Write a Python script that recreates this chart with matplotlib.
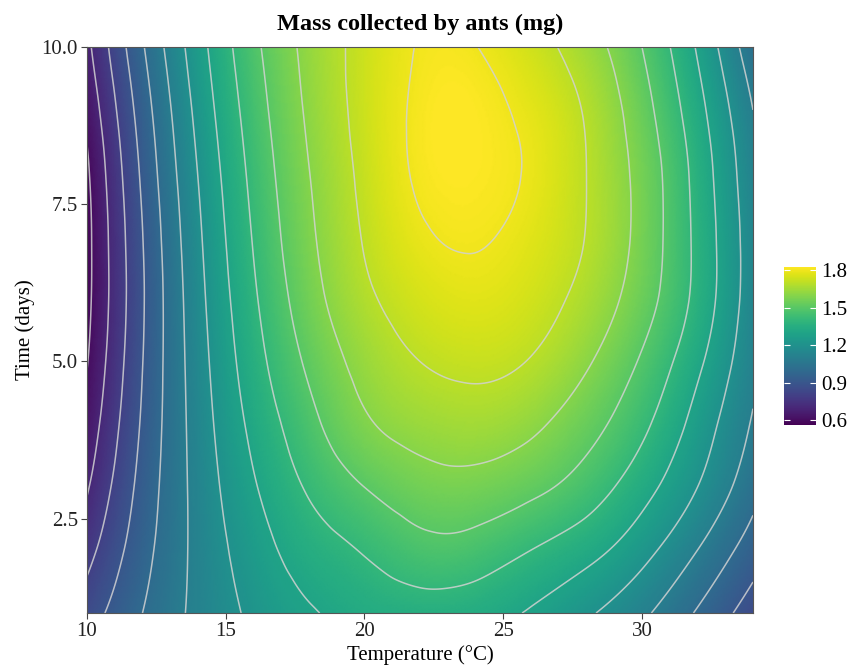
import numpy as np
import matplotlib
matplotlib.use("Agg")
from matplotlib import pyplot as plt
import matplotlib.tri as mtri

temperature = [10, 12, 14, 16, 18, 20, 22, 24, 26, 28, 30, 32, 34]
time_days = [1, 2, 3, 4, 5, 6, 7, 8, 9, 10]

# one row per day, one value per temperature (mg)
mass_day1 = [0.85, 1.00, 1.125, 1.22, 1.29, 1.335, 1.352, 1.34, 1.29, 1.214, 1.12, 0.99, 0.85]
mass_day2 = [0.765, 0.963, 1.127, 1.253, 1.348, 1.408, 1.465, 1.458, 1.40, 1.335, 1.235, 1.10, 0.95]
mass_day3 = [0.69, 0.935, 1.134, 1.29, 1.412, 1.50, 1.558, 1.565, 1.525, 1.453, 1.339, 1.20, 1.035]
mass_day4 = [0.635, 0.913, 1.144, 1.325, 1.47, 1.585, 1.638, 1.654, 1.62, 1.538, 1.423, 1.262, 1.09]
mass_day5 = [0.595, 0.898, 1.155, 1.358, 1.518, 1.635, 1.70, 1.722, 1.695, 1.612, 1.488, 1.322, 1.125]
mass_day6 = [0.575, 0.89, 1.167, 1.385, 1.558, 1.68, 1.748, 1.772, 1.742, 1.668, 1.545, 1.37, 1.143]
mass_day7 = [0.572, 0.898, 1.182, 1.407, 1.582, 1.707, 1.788, 1.808, 1.772, 1.697, 1.567, 1.375, 1.145]
mass_day8 = [0.585, 0.918, 1.202, 1.427, 1.598, 1.722, 1.812, 1.826, 1.79, 1.70, 1.565, 1.365, 1.13]
mass_day9 = [0.625, 0.948, 1.228, 1.45, 1.615, 1.732, 1.815, 1.826, 1.778, 1.69, 1.54, 1.335, 1.10]
mass_day10 = [0.675, 0.99, 1.258, 1.475, 1.628, 1.732, 1.805, 1.802, 1.74, 1.647, 1.50, 1.29, 1.035]

contour_levels = [0.6, 0.7, 0.8, 0.9, 1.0, 1.1, 1.2, 1.3, 1.4, 1.5, 1.6, 1.7, 1.8]
colorbar_ticks = [0.6, 0.9, 1.2, 1.5, 1.8]


def smooth_surface():
    z = np.array([mass_day1, mass_day2, mass_day3, mass_day4, mass_day5,
                  mass_day6, mass_day7, mass_day8, mass_day9, mass_day10])
    # grid index space so the cubic patches see square cells
    ix, iy = np.meshgrid(np.arange(len(temperature)), np.arange(len(time_days)))
    ny, nx = z.shape
    tris = []
    for j in range(ny - 1):
        for i in range(nx - 1):
            a = j * nx + i
            tris.append([a, a + 1, a + nx + 1])
            tris.append([a, a + nx + 1, a + nx])
    triang = mtri.Triangulation(ix.ravel().astype(float), iy.ravel().astype(float), tris)
    interp = mtri.CubicTriInterpolator(triang, z.ravel(), kind="min_E")
    fine_tri, fine_z = mtri.UniformTriRefiner(triang).refine_field(
        z.ravel(), triinterpolator=interp, subdiv=5)
    # back to temperature / day units
    fx = np.interp(fine_tri.x, np.arange(nx), temperature)
    fy = np.interp(fine_tri.y, np.arange(ny), time_days)
    return mtri.Triangulation(fx, fy, fine_tri.triangles), fine_z


def make_plot():
    plt.rcParams["font.family"] = ["Liberation Serif", "DejaVu Serif"]
    tri_fine, z_fine = smooth_surface()

    fig = plt.figure(figsize=(8.57, 6.68), dpi=100)
    ax = fig.add_axes([0.1015, 0.0823, 0.7771, 0.8473])
    mesh = ax.tripcolor(tri_fine, z_fine, shading="gouraud", cmap="viridis",
                        vmin=0.56, vmax=1.83)
    ax.tricontour(tri_fine, z_fine, levels=contour_levels, colors="#d2d2d2",
                  alpha=0.85, linewidths=1.1)

    ax.set_xlim(10, 34)
    ax.set_ylim(1, 10)
    ax.set_xticks([10, 15, 20, 25, 30])
    ax.set_yticks([2.5, 5.0, 7.5, 10.0], ["2.5", "5.0", "7.5", "10.0"])
    ax.tick_params(labelsize=15, length=4, width=0.8, color="#444444",
                   labelcolor="#222222", pad=2.5)
    for s in ax.spines.values():
        s.set_color("#555555")
        s.set_linewidth(0.8)

    ax.set_xlabel("Temperature (°C)", fontsize=15, labelpad=3)
    ax.set_ylabel("Time (days)", fontsize=15, labelpad=5)
    ax.set_title("Mass collected by ants (mg)", fontsize=17.5, fontweight="bold", pad=12.5)

    cax = fig.add_axes([0.9148, 0.3638, 0.037, 0.237])
    cb = fig.colorbar(mesh, cax=cax, ticks=colorbar_ticks)
    cb.outline.set_visible(False)
    cb.ax.set_yticklabels(["{:.1f}".format(v) for v in colorbar_ticks])
    cax.tick_params(left=True, right=True, labelleft=False, labelright=True,
                    direction="in", length=4, width=0.8, color="white",
                    labelsize=15, pad=4)

    plt.savefig("out.png")


if __name__ == "__main__":
    make_plot()
